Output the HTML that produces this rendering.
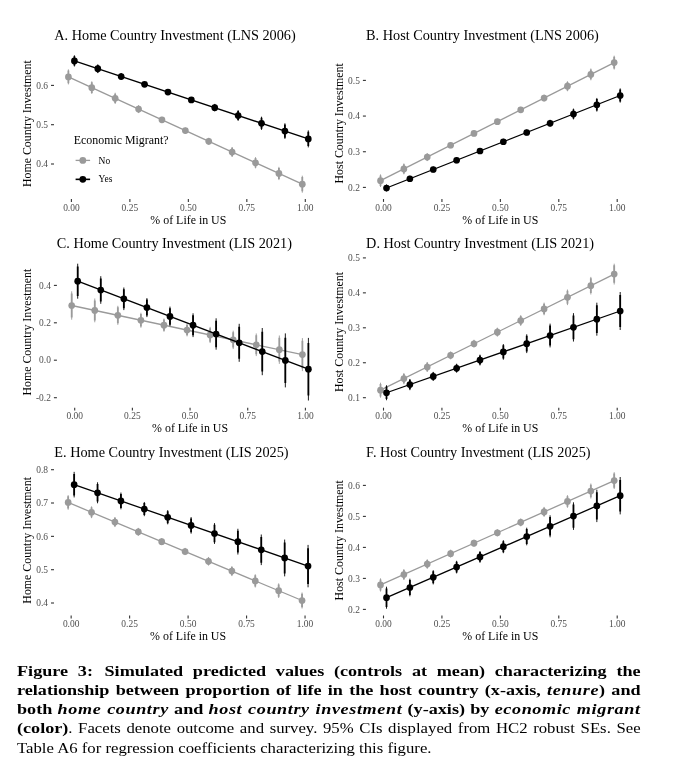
<!DOCTYPE html>
<html><head><meta charset="utf-8"><title>Figure 3</title>
<style>
html,body{margin:0;padding:0;background:#fff;}
body{width:678px;height:776px;position:relative;overflow:hidden;font-family:"Liberation Serif",serif;}
svg{position:absolute;left:0;top:0;display:block;will-change:transform;}
#cap{will-change:transform;}
#cap{position:absolute;left:17.0px;top:661.8px;width:623.6px;font-size:13.6px;line-height:19.15px;color:#000;}
#cap .l{position:absolute;left:0;height:19.15px;transform-origin:0 0;text-align:justify;text-align-last:justify;white-space:nowrap;}
#cap .b{font-weight:bold;}
#cap .b i{letter-spacing:0.45px;}
#cap .cb{display:inline-block;transform:scaleX(1.085);transform-origin:0 50%;margin-right:3.2px;}
#cap .last{text-align:left;text-align-last:left;}
</style></head>
<body>
<svg width="678" height="776" viewBox="0 0 678 776" font-family="'Liberation Serif', serif">
<g id="pA">
<text x="54.3" y="40" font-size="14.25" fill="#000">A. Home Country Investment (LNS 2006)</text>
<text transform="translate(30.9,123.7) rotate(-90)" text-anchor="middle" font-size="11.9" fill="#000">Home Country Investment</text>
<line x1="51" x2="54" y1="85.4" y2="85.4" stroke="#333333" stroke-width="1.1"/>
<text x="48" y="88.6" text-anchor="end" font-size="9.45" fill="#4d4d4d">0.6</text>
<line x1="51" x2="54" y1="124.7" y2="124.7" stroke="#333333" stroke-width="1.1"/>
<text x="48" y="127.9" text-anchor="end" font-size="9.45" fill="#4d4d4d">0.5</text>
<line x1="51" x2="54" y1="164" y2="164" stroke="#333333" stroke-width="1.1"/>
<text x="48" y="167.2" text-anchor="end" font-size="9.45" fill="#4d4d4d">0.4</text>
<line x1="71.4" x2="71.4" y1="199" y2="201.9" stroke="#333333" stroke-width="1.1"/>
<text x="71.4" y="210.7" text-anchor="middle" font-size="9.45" fill="#4d4d4d">0.00</text>
<line x1="129.88" x2="129.88" y1="199" y2="201.9" stroke="#333333" stroke-width="1.1"/>
<text x="129.88" y="210.7" text-anchor="middle" font-size="9.45" fill="#4d4d4d">0.25</text>
<line x1="188.35" x2="188.35" y1="199" y2="201.9" stroke="#333333" stroke-width="1.1"/>
<text x="188.35" y="210.7" text-anchor="middle" font-size="9.45" fill="#4d4d4d">0.50</text>
<line x1="246.83" x2="246.83" y1="199" y2="201.9" stroke="#333333" stroke-width="1.1"/>
<text x="246.83" y="210.7" text-anchor="middle" font-size="9.45" fill="#4d4d4d">0.75</text>
<line x1="305.3" x2="305.3" y1="199" y2="201.9" stroke="#333333" stroke-width="1.1"/>
<text x="305.3" y="210.7" text-anchor="middle" font-size="9.45" fill="#4d4d4d">1.00</text>
<text x="188.35" y="223.6" text-anchor="middle" font-size="11.9" fill="#000">% of Life in US</text>
<line x1="68.4" y1="76.9" x2="302.3" y2="184.2" stroke="#9a9a9a" stroke-width="1.3"/>
<path d="M68.4 69.4V84.4M91.79 81.33V93.93M115.18 92.76V103.96M138.57 105.09V113.09M161.96 116.82V122.82M185.35 127.55V133.55M208.74 137.78V144.78M232.13 147.01V157.01M255.52 157.14V168.34M278.91 166.87V180.07M302.3 175.7V192.7" stroke="#9a9a9a" stroke-width="0.9" fill="none"/>
<path d="M68.4 70.6V83.2M91.79 82.34V92.92M115.18 93.66V103.06M138.57 105.73V112.45M161.96 117.3V122.34M185.35 128.03V133.07M208.74 138.34V144.22M232.13 147.81V156.21M255.52 158.04V167.44M278.91 167.93V179.01M302.3 177.06V191.34" stroke="#9a9a9a" stroke-width="1.8" fill="none"/>
<g fill="#9a9a9a"><circle cx="68.4" cy="76.9" r="3.35"/><circle cx="91.79" cy="87.63" r="3.35"/><circle cx="115.18" cy="98.36" r="3.35"/><circle cx="138.57" cy="109.09" r="3.35"/><circle cx="161.96" cy="119.82" r="3.35"/><circle cx="185.35" cy="130.55" r="3.35"/><circle cx="208.74" cy="141.28" r="3.35"/><circle cx="232.13" cy="152.01" r="3.35"/><circle cx="255.52" cy="162.74" r="3.35"/><circle cx="278.91" cy="173.47" r="3.35"/><circle cx="302.3" cy="184.2" r="3.35"/></g>
<line x1="74.4" y1="60.9" x2="308.3" y2="138.9" stroke="#000000" stroke-width="1.3"/>
<path d="M74.4 55.3V66.5M97.79 64.3V73.1M121.18 73V80M144.57 81.8V86.8M167.96 89.6V94.6M191.35 97.4V102.4M214.74 103.9V111.5M238.13 110.1V120.9M261.52 116.7V129.9M284.91 123.3V138.9M308.3 130.4V147.4" stroke="#000000" stroke-width="0.9" fill="none"/>
<path d="M74.4 56.2V65.6M97.79 65V72.4M121.18 73.56V79.44M144.57 82.2V86.4M167.96 90V94.2M191.35 97.8V102M214.74 104.51V110.89M238.13 110.96V120.04M261.52 117.76V128.84M284.91 124.55V137.65M308.3 131.76V146.04" stroke="#000000" stroke-width="1.8" fill="none"/>
<g fill="#000000"><circle cx="74.4" cy="60.9" r="3.35"/><circle cx="97.79" cy="68.7" r="3.35"/><circle cx="121.18" cy="76.5" r="3.35"/><circle cx="144.57" cy="84.3" r="3.35"/><circle cx="167.96" cy="92.1" r="3.35"/><circle cx="191.35" cy="99.9" r="3.35"/><circle cx="214.74" cy="107.7" r="3.35"/><circle cx="238.13" cy="115.5" r="3.35"/><circle cx="261.52" cy="123.3" r="3.35"/><circle cx="284.91" cy="131.1" r="3.35"/><circle cx="308.3" cy="138.9" r="3.35"/></g>
</g>
<g id="pB">
<text x="366.1" y="40" font-size="14.25" fill="#000">B. Host Country Investment (LNS 2006)</text>
<text transform="translate(343.2,123.4) rotate(-90)" text-anchor="middle" font-size="11.9" fill="#000">Host Country Investment</text>
<line x1="362.9" x2="365.9" y1="80.4" y2="80.4" stroke="#333333" stroke-width="1.1"/>
<text x="359.9" y="83.6" text-anchor="end" font-size="9.45" fill="#4d4d4d">0.5</text>
<line x1="362.9" x2="365.9" y1="116.07" y2="116.07" stroke="#333333" stroke-width="1.1"/>
<text x="359.9" y="119.27" text-anchor="end" font-size="9.45" fill="#4d4d4d">0.4</text>
<line x1="362.9" x2="365.9" y1="151.74" y2="151.74" stroke="#333333" stroke-width="1.1"/>
<text x="359.9" y="154.94" text-anchor="end" font-size="9.45" fill="#4d4d4d">0.3</text>
<line x1="362.9" x2="365.9" y1="187.4" y2="187.4" stroke="#333333" stroke-width="1.1"/>
<text x="359.9" y="190.6" text-anchor="end" font-size="9.45" fill="#4d4d4d">0.2</text>
<line x1="383.5" x2="383.5" y1="199" y2="201.9" stroke="#333333" stroke-width="1.1"/>
<text x="383.5" y="210.7" text-anchor="middle" font-size="9.45" fill="#4d4d4d">0.00</text>
<line x1="441.93" x2="441.93" y1="199" y2="201.9" stroke="#333333" stroke-width="1.1"/>
<text x="441.93" y="210.7" text-anchor="middle" font-size="9.45" fill="#4d4d4d">0.25</text>
<line x1="500.35" x2="500.35" y1="199" y2="201.9" stroke="#333333" stroke-width="1.1"/>
<text x="500.35" y="210.7" text-anchor="middle" font-size="9.45" fill="#4d4d4d">0.50</text>
<line x1="558.78" x2="558.78" y1="199" y2="201.9" stroke="#333333" stroke-width="1.1"/>
<text x="558.78" y="210.7" text-anchor="middle" font-size="9.45" fill="#4d4d4d">0.75</text>
<line x1="617.2" x2="617.2" y1="199" y2="201.9" stroke="#333333" stroke-width="1.1"/>
<text x="617.2" y="210.7" text-anchor="middle" font-size="9.45" fill="#4d4d4d">1.00</text>
<text x="500.35" y="223.6" text-anchor="middle" font-size="11.9" fill="#000">% of Life in US</text>
<line x1="380.5" y1="180.7" x2="614.2" y2="62.6" stroke="#9a9a9a" stroke-width="1.3"/>
<path d="M380.5 174.4V187M403.87 163.49V174.29M427.24 153.08V161.08M450.61 142.27V148.27M473.98 130.46V136.46M497.35 118.65V124.65M520.72 106.84V112.84M544.09 94.53V101.53M567.46 81.22V91.22M590.83 68.51V80.31M614.2 55.7V69.5" stroke="#9a9a9a" stroke-width="0.9" fill="none"/>
<path d="M380.5 175.41V185.99M403.87 164.35V173.43M427.24 153.72V160.44M450.61 142.75V147.79M473.98 130.94V135.98M497.35 119.13V124.17M520.72 107.32V112.36M544.09 95.09V100.97M567.46 82.02V90.42M590.83 69.45V79.37M614.2 56.8V68.4" stroke="#9a9a9a" stroke-width="1.8" fill="none"/>
<g fill="#9a9a9a"><circle cx="380.5" cy="180.7" r="3.35"/><circle cx="403.87" cy="168.89" r="3.35"/><circle cx="427.24" cy="157.08" r="3.35"/><circle cx="450.61" cy="145.27" r="3.35"/><circle cx="473.98" cy="133.46" r="3.35"/><circle cx="497.35" cy="121.65" r="3.35"/><circle cx="520.72" cy="109.84" r="3.35"/><circle cx="544.09" cy="98.03" r="3.35"/><circle cx="567.46" cy="86.22" r="3.35"/><circle cx="590.83" cy="74.41" r="3.35"/><circle cx="614.2" cy="62.6" r="3.35"/></g>
<line x1="386.5" y1="188" x2="620.2" y2="95.5" stroke="#000000" stroke-width="1.3"/>
<path d="M386.5 184.4V191.6M409.87 175.75V181.75M433.24 166.5V172.5M456.61 157.25V163.25M479.98 148V154M503.35 138.75V144.75M526.72 129.5V135.5M550.09 119.75V126.75M573.46 108.6V119.4M596.83 97.95V111.55M620.2 88.4V102.6" stroke="#000000" stroke-width="0.9" fill="none"/>
<path d="M386.5 184.98V191.02M409.87 176.23V181.27M433.24 166.98V172.02M456.61 157.73V162.77M479.98 148.48V153.52M503.35 139.23V144.27M526.72 129.98V135.02M550.09 120.31V126.19M573.46 109.46V118.54M596.83 99.04V110.46M620.2 89.54V101.46" stroke="#000000" stroke-width="1.8" fill="none"/>
<g fill="#000000"><circle cx="386.5" cy="188" r="3.35"/><circle cx="409.87" cy="178.75" r="3.35"/><circle cx="433.24" cy="169.5" r="3.35"/><circle cx="456.61" cy="160.25" r="3.35"/><circle cx="479.98" cy="151" r="3.35"/><circle cx="503.35" cy="141.75" r="3.35"/><circle cx="526.72" cy="132.5" r="3.35"/><circle cx="550.09" cy="123.25" r="3.35"/><circle cx="573.46" cy="114" r="3.35"/><circle cx="596.83" cy="104.75" r="3.35"/><circle cx="620.2" cy="95.5" r="3.35"/></g>
</g>
<g id="pC">
<text x="56.8" y="247.6" font-size="14.25" fill="#000">C. Home Country Investment (LIS 2021)</text>
<text transform="translate(30.9,332.2) rotate(-90)" text-anchor="middle" font-size="11.9" fill="#000">Home Country Investment</text>
<line x1="53.9" x2="56.9" y1="285.4" y2="285.4" stroke="#333333" stroke-width="1.1"/>
<text x="50.9" y="288.6" text-anchor="end" font-size="9.45" fill="#4d4d4d">0.4</text>
<line x1="53.9" x2="56.9" y1="322.8" y2="322.8" stroke="#333333" stroke-width="1.1"/>
<text x="50.9" y="326" text-anchor="end" font-size="9.45" fill="#4d4d4d">0.2</text>
<line x1="53.9" x2="56.9" y1="360.2" y2="360.2" stroke="#333333" stroke-width="1.1"/>
<text x="50.9" y="363.4" text-anchor="end" font-size="9.45" fill="#4d4d4d">0.0</text>
<line x1="53.9" x2="56.9" y1="397.7" y2="397.7" stroke="#333333" stroke-width="1.1"/>
<text x="50.9" y="400.9" text-anchor="end" font-size="9.45" fill="#4d4d4d">-0.2</text>
<line x1="74.7" x2="74.7" y1="407.7" y2="410.6" stroke="#333333" stroke-width="1.1"/>
<text x="74.7" y="419.4" text-anchor="middle" font-size="9.45" fill="#4d4d4d">0.00</text>
<line x1="132.38" x2="132.38" y1="407.7" y2="410.6" stroke="#333333" stroke-width="1.1"/>
<text x="132.38" y="419.4" text-anchor="middle" font-size="9.45" fill="#4d4d4d">0.25</text>
<line x1="190.05" x2="190.05" y1="407.7" y2="410.6" stroke="#333333" stroke-width="1.1"/>
<text x="190.05" y="419.4" text-anchor="middle" font-size="9.45" fill="#4d4d4d">0.50</text>
<line x1="247.72" x2="247.72" y1="407.7" y2="410.6" stroke="#333333" stroke-width="1.1"/>
<text x="247.72" y="419.4" text-anchor="middle" font-size="9.45" fill="#4d4d4d">0.75</text>
<line x1="305.4" x2="305.4" y1="407.7" y2="410.6" stroke="#333333" stroke-width="1.1"/>
<text x="305.4" y="419.4" text-anchor="middle" font-size="9.45" fill="#4d4d4d">1.00</text>
<text x="190.05" y="432.3" text-anchor="middle" font-size="11.9" fill="#000">% of Life in US</text>
<line x1="71.7" y1="305.5" x2="302.4" y2="354.6" stroke="#9a9a9a" stroke-width="1.3"/>
<path d="M71.7 291.3V319.7M94.77 298.51V322.31M117.84 305.82V324.82M140.91 312.73V327.73M163.98 318.54V331.74M187.05 323.75V336.35M210.12 326.86V343.06M233.19 330.67V349.07M256.26 333.48V356.08M279.33 335.49V363.89M302.4 338.1V371.1" stroke="#9a9a9a" stroke-width="0.9" fill="none"/>
<path d="M71.7 293.57V317.43M94.77 300.41V320.41M117.84 307.34V323.3M140.91 313.93V326.53M163.98 319.6V330.68M187.05 324.76V335.34M210.12 328.16V341.76M233.19 332.14V347.6M256.26 335.29V354.27M279.33 337.76V361.62M302.4 340.74V368.46" stroke="#9a9a9a" stroke-width="1.8" fill="none"/>
<g fill="#9a9a9a"><circle cx="71.7" cy="305.5" r="3.35"/><circle cx="94.77" cy="310.41" r="3.35"/><circle cx="117.84" cy="315.32" r="3.35"/><circle cx="140.91" cy="320.23" r="3.35"/><circle cx="163.98" cy="325.14" r="3.35"/><circle cx="187.05" cy="330.05" r="3.35"/><circle cx="210.12" cy="334.96" r="3.35"/><circle cx="233.19" cy="339.87" r="3.35"/><circle cx="256.26" cy="344.78" r="3.35"/><circle cx="279.33" cy="349.69" r="3.35"/><circle cx="302.4" cy="354.6" r="3.35"/></g>
<line x1="77.7" y1="281.2" x2="308.4" y2="369.2" stroke="#000000" stroke-width="1.3"/>
<path d="M77.7 263.7V298.7M100.77 276.2V303.8M123.84 287.5V310.1M146.91 298.1V317.1M169.98 306.6V326.2M193.05 313.3V337.1M216.12 318.3V349.7M239.19 323.8V361.8M262.26 328V375.2M285.33 333.4V387.4M308.4 337.9V400.5" stroke="#000000" stroke-width="0.9" fill="none"/>
<path d="M77.7 266.5V295.9M100.77 278.41V301.59M123.84 289.31V308.29M146.91 299.62V315.58M169.98 308.17V324.63M193.05 315.2V335.2M216.12 320.81V347.19M239.19 326.84V358.76M262.26 331.78V371.42M285.33 337.72V383.08M308.4 342.91V395.49" stroke="#000000" stroke-width="1.8" fill="none"/>
<g fill="#000000"><circle cx="77.7" cy="281.2" r="3.35"/><circle cx="100.77" cy="290" r="3.35"/><circle cx="123.84" cy="298.8" r="3.35"/><circle cx="146.91" cy="307.6" r="3.35"/><circle cx="169.98" cy="316.4" r="3.35"/><circle cx="193.05" cy="325.2" r="3.35"/><circle cx="216.12" cy="334" r="3.35"/><circle cx="239.19" cy="342.8" r="3.35"/><circle cx="262.26" cy="351.6" r="3.35"/><circle cx="285.33" cy="360.4" r="3.35"/><circle cx="308.4" cy="369.2" r="3.35"/></g>
</g>
<g id="pD">
<text x="366.1" y="247.6" font-size="14.25" fill="#000">D. Host Country Investment (LIS 2021)</text>
<text transform="translate(343.2,332) rotate(-90)" text-anchor="middle" font-size="11.9" fill="#000">Host Country Investment</text>
<line x1="362.9" x2="365.9" y1="257.9" y2="257.9" stroke="#333333" stroke-width="1.1"/>
<text x="359.9" y="261.1" text-anchor="end" font-size="9.45" fill="#4d4d4d">0.5</text>
<line x1="362.9" x2="365.9" y1="292.85" y2="292.85" stroke="#333333" stroke-width="1.1"/>
<text x="359.9" y="296.05" text-anchor="end" font-size="9.45" fill="#4d4d4d">0.4</text>
<line x1="362.9" x2="365.9" y1="327.8" y2="327.8" stroke="#333333" stroke-width="1.1"/>
<text x="359.9" y="331" text-anchor="end" font-size="9.45" fill="#4d4d4d">0.3</text>
<line x1="362.9" x2="365.9" y1="362.75" y2="362.75" stroke="#333333" stroke-width="1.1"/>
<text x="359.9" y="365.95" text-anchor="end" font-size="9.45" fill="#4d4d4d">0.2</text>
<line x1="362.9" x2="365.9" y1="397.7" y2="397.7" stroke="#333333" stroke-width="1.1"/>
<text x="359.9" y="400.9" text-anchor="end" font-size="9.45" fill="#4d4d4d">0.1</text>
<line x1="383.5" x2="383.5" y1="407.7" y2="410.6" stroke="#333333" stroke-width="1.1"/>
<text x="383.5" y="419.4" text-anchor="middle" font-size="9.45" fill="#4d4d4d">0.00</text>
<line x1="441.93" x2="441.93" y1="407.7" y2="410.6" stroke="#333333" stroke-width="1.1"/>
<text x="441.93" y="419.4" text-anchor="middle" font-size="9.45" fill="#4d4d4d">0.25</text>
<line x1="500.35" x2="500.35" y1="407.7" y2="410.6" stroke="#333333" stroke-width="1.1"/>
<text x="500.35" y="419.4" text-anchor="middle" font-size="9.45" fill="#4d4d4d">0.50</text>
<line x1="558.78" x2="558.78" y1="407.7" y2="410.6" stroke="#333333" stroke-width="1.1"/>
<text x="558.78" y="419.4" text-anchor="middle" font-size="9.45" fill="#4d4d4d">0.75</text>
<line x1="617.2" x2="617.2" y1="407.7" y2="410.6" stroke="#333333" stroke-width="1.1"/>
<text x="617.2" y="419.4" text-anchor="middle" font-size="9.45" fill="#4d4d4d">1.00</text>
<text x="500.35" y="432.3" text-anchor="middle" font-size="11.9" fill="#000">% of Life in US</text>
<line x1="380.5" y1="390.2" x2="614.2" y2="274.1" stroke="#9a9a9a" stroke-width="1.3"/>
<path d="M380.5 382.7V397.7M403.87 372.99V384.19M427.24 361.98V371.98M450.61 351.37V359.37M473.98 339.76V347.76M497.35 327.65V336.65M520.72 315.14V325.94M544.09 302.63V315.23M567.46 289.52V305.12M590.83 276.91V294.51M614.2 263.7V284.5" stroke="#9a9a9a" stroke-width="0.9" fill="none"/>
<path d="M380.5 383.9V396.5M403.87 373.89V383.29M427.24 362.78V371.18M450.61 352.01V358.73M473.98 340.4V347.12M497.35 328.37V335.93M520.72 316V325.08M544.09 303.64V314.22M567.46 290.77V303.87M590.83 278.32V293.1M614.2 265.36V282.84" stroke="#9a9a9a" stroke-width="1.8" fill="none"/>
<g fill="#9a9a9a"><circle cx="380.5" cy="390.2" r="3.35"/><circle cx="403.87" cy="378.59" r="3.35"/><circle cx="427.24" cy="366.98" r="3.35"/><circle cx="450.61" cy="355.37" r="3.35"/><circle cx="473.98" cy="343.76" r="3.35"/><circle cx="497.35" cy="332.15" r="3.35"/><circle cx="520.72" cy="320.54" r="3.35"/><circle cx="544.09" cy="308.93" r="3.35"/><circle cx="567.46" cy="297.32" r="3.35"/><circle cx="590.83" cy="285.71" r="3.35"/><circle cx="614.2" cy="274.1" r="3.35"/></g>
<line x1="386.5" y1="392.75" x2="620.2" y2="311" stroke="#000000" stroke-width="1.3"/>
<path d="M386.5 385.25V400.25M409.87 378.97V390.18M433.24 371.9V380.9M456.61 363.73V372.73M479.98 354.65V365.45M503.35 344.07V359.68M526.72 334.3V353.1M550.09 323.62V347.42M573.46 313.15V341.55M596.83 302.68V335.68M620.2 292V330" stroke="#000000" stroke-width="0.9" fill="none"/>
<path d="M386.5 386.45V399.05M409.87 379.87V389.28M433.24 372.62V380.18M456.61 364.45V372M479.98 355.51V364.59M503.35 345.32V358.43M526.72 335.8V351.6M550.09 325.53V345.52M573.46 315.42V339.28M596.83 305.31V333.04M620.2 295.04V326.96" stroke="#000000" stroke-width="1.8" fill="none"/>
<g fill="#000000"><circle cx="386.5" cy="392.75" r="3.35"/><circle cx="409.87" cy="384.57" r="3.35"/><circle cx="433.24" cy="376.4" r="3.35"/><circle cx="456.61" cy="368.23" r="3.35"/><circle cx="479.98" cy="360.05" r="3.35"/><circle cx="503.35" cy="351.88" r="3.35"/><circle cx="526.72" cy="343.7" r="3.35"/><circle cx="550.09" cy="335.52" r="3.35"/><circle cx="573.46" cy="327.35" r="3.35"/><circle cx="596.83" cy="319.18" r="3.35"/><circle cx="620.2" cy="311" r="3.35"/></g>
</g>
<g id="pE">
<text x="54.3" y="456.6" font-size="14.25" fill="#000">E. Home Country Investment (LIS 2025)</text>
<text transform="translate(30.9,540.3) rotate(-90)" text-anchor="middle" font-size="11.9" fill="#000">Home Country Investment</text>
<line x1="51" x2="54" y1="469.7" y2="469.7" stroke="#333333" stroke-width="1.1"/>
<text x="48" y="472.9" text-anchor="end" font-size="9.45" fill="#4d4d4d">0.8</text>
<line x1="51" x2="54" y1="503" y2="503" stroke="#333333" stroke-width="1.1"/>
<text x="48" y="506.2" text-anchor="end" font-size="9.45" fill="#4d4d4d">0.7</text>
<line x1="51" x2="54" y1="536.35" y2="536.35" stroke="#333333" stroke-width="1.1"/>
<text x="48" y="539.55" text-anchor="end" font-size="9.45" fill="#4d4d4d">0.6</text>
<line x1="51" x2="54" y1="569.7" y2="569.7" stroke="#333333" stroke-width="1.1"/>
<text x="48" y="572.9" text-anchor="end" font-size="9.45" fill="#4d4d4d">0.5</text>
<line x1="51" x2="54" y1="603" y2="603" stroke="#333333" stroke-width="1.1"/>
<text x="48" y="606.2" text-anchor="end" font-size="9.45" fill="#4d4d4d">0.4</text>
<line x1="71.15" x2="71.15" y1="615.5" y2="618.4" stroke="#333333" stroke-width="1.1"/>
<text x="71.15" y="627.2" text-anchor="middle" font-size="9.45" fill="#4d4d4d">0.00</text>
<line x1="129.62" x2="129.62" y1="615.5" y2="618.4" stroke="#333333" stroke-width="1.1"/>
<text x="129.62" y="627.2" text-anchor="middle" font-size="9.45" fill="#4d4d4d">0.25</text>
<line x1="188.1" x2="188.1" y1="615.5" y2="618.4" stroke="#333333" stroke-width="1.1"/>
<text x="188.1" y="627.2" text-anchor="middle" font-size="9.45" fill="#4d4d4d">0.50</text>
<line x1="246.58" x2="246.58" y1="615.5" y2="618.4" stroke="#333333" stroke-width="1.1"/>
<text x="246.58" y="627.2" text-anchor="middle" font-size="9.45" fill="#4d4d4d">0.75</text>
<line x1="305.05" x2="305.05" y1="615.5" y2="618.4" stroke="#333333" stroke-width="1.1"/>
<text x="305.05" y="627.2" text-anchor="middle" font-size="9.45" fill="#4d4d4d">1.00</text>
<text x="188.1" y="640.1" text-anchor="middle" font-size="11.9" fill="#000">% of Life in US</text>
<line x1="68.15" y1="502.45" x2="302.05" y2="600.5" stroke="#9a9a9a" stroke-width="1.3"/>
<path d="M68.15 495.15V509.75M91.54 506.36V518.15M114.93 517.06V527.06M138.32 527.87V535.87M161.71 538.07V545.27M185.1 547.88V555.08M208.49 556.98V565.58M231.88 566.09V576.09M255.27 574.29V587.49M278.66 583.39V597.99M302.05 592.5V608.5" stroke="#9a9a9a" stroke-width="0.9" fill="none"/>
<path d="M68.15 496.32V508.58M91.54 507.3V517.21M114.93 517.86V526.26M138.32 528.5V535.23M161.71 538.65V544.69M185.1 548.45V554.5M208.49 557.67V564.89M231.88 566.88V575.29M255.27 575.35V586.43M278.66 584.56V596.83M302.05 593.78V607.22" stroke="#9a9a9a" stroke-width="1.8" fill="none"/>
<g fill="#9a9a9a"><circle cx="68.15" cy="502.45" r="3.35"/><circle cx="91.54" cy="512.25" r="3.35"/><circle cx="114.93" cy="522.06" r="3.35"/><circle cx="138.32" cy="531.87" r="3.35"/><circle cx="161.71" cy="541.67" r="3.35"/><circle cx="185.1" cy="551.48" r="3.35"/><circle cx="208.49" cy="561.28" r="3.35"/><circle cx="231.88" cy="571.09" r="3.35"/><circle cx="255.27" cy="580.89" r="3.35"/><circle cx="278.66" cy="590.69" r="3.35"/><circle cx="302.05" cy="600.5" r="3.35"/></g>
<line x1="74.15" y1="484.65" x2="308.05" y2="566.1" stroke="#000000" stroke-width="1.3"/>
<path d="M74.15 471.85V497.45M97.54 482.29V503.29M120.93 492.54V509.34M144.32 501.98V516.18M167.71 510.13V524.33M191.1 517.08V533.67M214.49 523.12V543.92M237.88 528.76V554.56M261.27 534.51V565.11M284.66 539.56V576.36M308.05 544.9V587.3" stroke="#000000" stroke-width="0.9" fill="none"/>
<path d="M74.15 473.9V495.4M97.54 483.97V501.61M120.93 493.88V508M144.32 503.12V515.05M167.71 511.27V523.19M191.1 518.4V532.35M214.49 524.78V542.26M237.88 530.83V552.5M261.27 536.96V562.66M284.66 542.5V573.41M308.05 548.29V583.91" stroke="#000000" stroke-width="1.8" fill="none"/>
<g fill="#000000"><circle cx="74.15" cy="484.65" r="3.35"/><circle cx="97.54" cy="492.79" r="3.35"/><circle cx="120.93" cy="500.94" r="3.35"/><circle cx="144.32" cy="509.08" r="3.35"/><circle cx="167.71" cy="517.23" r="3.35"/><circle cx="191.1" cy="525.38" r="3.35"/><circle cx="214.49" cy="533.52" r="3.35"/><circle cx="237.88" cy="541.66" r="3.35"/><circle cx="261.27" cy="549.81" r="3.35"/><circle cx="284.66" cy="557.96" r="3.35"/><circle cx="308.05" cy="566.1" r="3.35"/></g>
</g>
<g id="pF">
<text x="366.1" y="456.6" font-size="14.25" fill="#000">F. Host Country Investment (LIS 2025)</text>
<text transform="translate(343.2,540.3) rotate(-90)" text-anchor="middle" font-size="11.9" fill="#000">Host Country Investment</text>
<line x1="362.9" x2="365.9" y1="485.4" y2="485.4" stroke="#333333" stroke-width="1.1"/>
<text x="359.9" y="488.6" text-anchor="end" font-size="9.45" fill="#4d4d4d">0.6</text>
<line x1="362.9" x2="365.9" y1="516.4" y2="516.4" stroke="#333333" stroke-width="1.1"/>
<text x="359.9" y="519.6" text-anchor="end" font-size="9.45" fill="#4d4d4d">0.5</text>
<line x1="362.9" x2="365.9" y1="547.4" y2="547.4" stroke="#333333" stroke-width="1.1"/>
<text x="359.9" y="550.6" text-anchor="end" font-size="9.45" fill="#4d4d4d">0.4</text>
<line x1="362.9" x2="365.9" y1="578.4" y2="578.4" stroke="#333333" stroke-width="1.1"/>
<text x="359.9" y="581.6" text-anchor="end" font-size="9.45" fill="#4d4d4d">0.3</text>
<line x1="362.9" x2="365.9" y1="609.4" y2="609.4" stroke="#333333" stroke-width="1.1"/>
<text x="359.9" y="612.6" text-anchor="end" font-size="9.45" fill="#4d4d4d">0.2</text>
<line x1="383.5" x2="383.5" y1="615.5" y2="618.4" stroke="#333333" stroke-width="1.1"/>
<text x="383.5" y="627.2" text-anchor="middle" font-size="9.45" fill="#4d4d4d">0.00</text>
<line x1="441.93" x2="441.93" y1="615.5" y2="618.4" stroke="#333333" stroke-width="1.1"/>
<text x="441.93" y="627.2" text-anchor="middle" font-size="9.45" fill="#4d4d4d">0.25</text>
<line x1="500.35" x2="500.35" y1="615.5" y2="618.4" stroke="#333333" stroke-width="1.1"/>
<text x="500.35" y="627.2" text-anchor="middle" font-size="9.45" fill="#4d4d4d">0.50</text>
<line x1="558.78" x2="558.78" y1="615.5" y2="618.4" stroke="#333333" stroke-width="1.1"/>
<text x="558.78" y="627.2" text-anchor="middle" font-size="9.45" fill="#4d4d4d">0.75</text>
<line x1="617.2" x2="617.2" y1="615.5" y2="618.4" stroke="#333333" stroke-width="1.1"/>
<text x="617.2" y="627.2" text-anchor="middle" font-size="9.45" fill="#4d4d4d">1.00</text>
<text x="500.35" y="640.1" text-anchor="middle" font-size="11.9" fill="#000">% of Life in US</text>
<line x1="380.5" y1="584.95" x2="614.2" y2="480.6" stroke="#9a9a9a" stroke-width="1.3"/>
<path d="M380.5 578.35V591.55M403.87 569.02V580.02M427.24 559.28V568.88M450.61 549.64V557.64M473.98 539.61V546.81M497.35 529.18V536.38M520.72 518.34V526.34M544.09 506.91V516.9M567.46 495.17V507.77M590.83 483.54V498.54M614.2 472.2V489" stroke="#9a9a9a" stroke-width="0.9" fill="none"/>
<path d="M380.5 579.41V590.49M403.87 569.9V579.14M427.24 560.05V568.11M450.61 550.28V557M473.98 540.19V546.23M497.35 529.75V535.8M520.72 518.98V525.7M544.09 507.71V516.11M567.46 496.18V506.76M590.83 484.74V497.34M614.2 473.54V487.66" stroke="#9a9a9a" stroke-width="1.8" fill="none"/>
<g fill="#9a9a9a"><circle cx="380.5" cy="584.95" r="3.35"/><circle cx="403.87" cy="574.52" r="3.35"/><circle cx="427.24" cy="564.08" r="3.35"/><circle cx="450.61" cy="553.64" r="3.35"/><circle cx="473.98" cy="543.21" r="3.35"/><circle cx="497.35" cy="532.78" r="3.35"/><circle cx="520.72" cy="522.34" r="3.35"/><circle cx="544.09" cy="511.91" r="3.35"/><circle cx="567.46" cy="501.47" r="3.35"/><circle cx="590.83" cy="491.04" r="3.35"/><circle cx="614.2" cy="480.6" r="3.35"/></g>
<line x1="386.5" y1="597.7" x2="620.2" y2="495.7" stroke="#000000" stroke-width="1.3"/>
<path d="M386.5 586.7V608.7M409.87 578.7V596.3M433.24 570.2V584.4M456.61 560.8V573.4M479.98 551V562.8M503.35 540.2V553.2M526.72 527.7V545.3M550.09 515.3V537.3M573.46 502.3V529.9M596.83 489.7V522.1M620.2 477V514.4" stroke="#000000" stroke-width="0.9" fill="none"/>
<path d="M386.5 588.46V606.94M409.87 580.11V594.89M433.24 571.34V583.26M456.61 561.81V572.39M479.98 551.94V561.86M503.35 541.24V552.16M526.72 529.11V543.89M550.09 517.06V535.54M573.46 504.51V527.69M596.83 492.29V519.51M620.2 479.99V511.41" stroke="#000000" stroke-width="1.8" fill="none"/>
<g fill="#000000"><circle cx="386.5" cy="597.7" r="3.35"/><circle cx="409.87" cy="587.5" r="3.35"/><circle cx="433.24" cy="577.3" r="3.35"/><circle cx="456.61" cy="567.1" r="3.35"/><circle cx="479.98" cy="556.9" r="3.35"/><circle cx="503.35" cy="546.7" r="3.35"/><circle cx="526.72" cy="536.5" r="3.35"/><circle cx="550.09" cy="526.3" r="3.35"/><circle cx="573.46" cy="516.1" r="3.35"/><circle cx="596.83" cy="505.9" r="3.35"/><circle cx="620.2" cy="495.7" r="3.35"/></g>
</g>
<g id="legend">
<text x="73.8" y="143.6" font-size="11.9" fill="#000">Economic Migrant?</text>
<line x1="75.6" x2="90.1" y1="160.4" y2="160.4" stroke="#9a9a9a" stroke-width="1.3"/>
<circle cx="82.8" cy="160.4" r="3.4" fill="#9a9a9a"/>
<text x="98.6" y="163.5" font-size="9.45" fill="#000">No</text>
<line x1="75.6" x2="90.1" y1="179.35" y2="179.35" stroke="#000000" stroke-width="1.6"/>
<circle cx="82.8" cy="179.35" r="3.4" fill="#000000"/>
<text x="98.6" y="182.45" font-size="9.45" fill="#000">Yes</text>
</g>
</svg>
<div id="cap">
<div class="l b" style="top:0px;width:467.12px;transform:scaleX(1.335)">Figure <span style="margin-right:1.4px">3:</span> Simulated predicted values (controls at mean) characterizing the</div>
<div class="l b" style="top:19.15px;width:467.12px;transform:scaleX(1.335)">relationship between proportion of life in the host country (x-axis, <i>tenure</i>) and</div>
<div class="l b" style="top:38.3px;width:467.12px;transform:scaleX(1.335)">both <i>home country</i> and <i>host country investment</i> (y-axis) by <i>economic migrant</i></div>
<div class="l r" style="top:57.45px;width:506.99px;transform:scaleX(1.23)"><b class="cb">(color)</b>. Facets denote outcome and survey. 95% CIs displayed from HC2 robust SEs. See</div>
<div class="l r last" style="top:76.6px;width:506.99px;transform:scaleX(1.23)">Table A6 for regression coefficients characterizing this figure.</div>
</div>
</body></html>
